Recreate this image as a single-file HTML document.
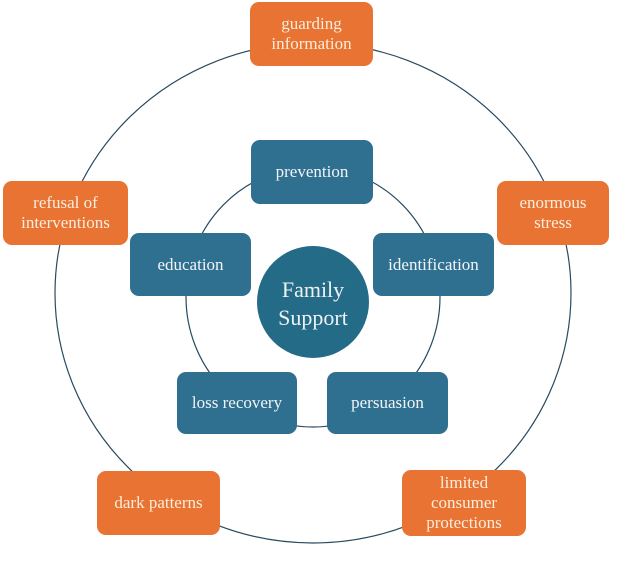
<!DOCTYPE html>
<html><head><meta charset="utf-8"><style>
body{margin:0;background:#fff;width:625px;height:561px;overflow:hidden;position:relative;font-family:"Liberation Serif",serif}
.b{position:absolute;display:flex;align-items:center;justify-content:center;text-align:center;border-radius:9px;font-size:17px;line-height:20px}
.o{background:#E87333;color:#FBEEDD}
.u{background:#2F7090;color:#F2F5F7}
</style></head><body>
<svg width="625" height="561" style="position:absolute;left:0;top:0">
<ellipse cx="313" cy="293" rx="258" ry="250" fill="none" stroke="#2A4A5E" stroke-width="1.2"/>
<ellipse cx="313" cy="297" rx="127" ry="130" fill="none" stroke="#2A4A5E" stroke-width="1.2"/>
<ellipse cx="313" cy="302" rx="56" ry="56" fill="#246B88"/>
<text x="313" y="297" text-anchor="middle" font-family="Liberation Serif" font-size="22" fill="#EEF2F5">Family</text>
<text x="313" y="325" text-anchor="middle" font-family="Liberation Serif" font-size="22" fill="#EEF2F5">Support</text>
</svg>
<div class="b o" style="left:250px;top:2px;width:123px;height:64px">guarding<br>information</div>
<div class="b o" style="left:497px;top:181px;width:112px;height:64px">enormous<br>stress</div>
<div class="b o" style="left:3px;top:181px;width:125px;height:64px">refusal of<br>interventions</div>
<div class="b o" style="left:97px;top:471px;width:123px;height:64px">dark patterns</div>
<div class="b o" style="left:402px;top:470px;width:124px;height:66px">limited<br>consumer<br>protections</div>
<div class="b u" style="left:251px;top:140px;width:122px;height:64px">prevention</div>
<div class="b u" style="left:373px;top:233px;width:121px;height:63px">identification</div>
<div class="b u" style="left:130px;top:233px;width:121px;height:63px">education</div>
<div class="b u" style="left:177px;top:372px;width:120px;height:62px">loss recovery</div>
<div class="b u" style="left:327px;top:372px;width:121px;height:62px">persuasion</div>
</body></html>
